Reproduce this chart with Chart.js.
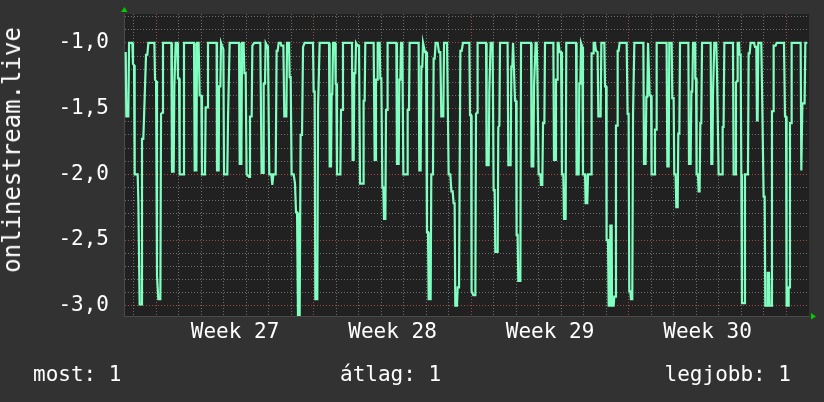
<!DOCTYPE html>
<html>
<head>
<meta charset="utf-8">
<script src="https://cdn.jsdelivr.net/npm/chart.js@4.4.1/dist/chart.umd.min.js"></script>
<style>
    html, body { margin: 0; padding: 0; background: #323232; }
    #wrap { position: relative; width: 824px; height: 402px; }
    #chart { position: absolute; left: 0; top: 0; }
    .txt {
        position: absolute;
        color: #ffffff;
        font-family: "DejaVu Sans Mono", monospace;
        font-size: 21px;
        line-height: 24px;
        white-space: nowrap;
    }
    #ytitle {
        font-size: 24px;
        left: 12px;
        top: 150px;
        transform: translate(-50%, -50%) rotate(-90deg);
    }
</style>
</head>
<body>
<div id="wrap">
    <canvas id="chart" width="824" height="402"></canvas>
    <div id="ytitle" class="txt"></div>
    <div id="s-now" class="txt" style="left:33px; top:362px"></div>
    <div id="s-avg" class="txt" style="left:340px; top:362px"></div>
    <div id="s-max" class="txt" style="right:33px; top:362px"></div>
</div>
<script>
"use strict";

// hours since the start of Week 27
const HOURS = [
    -32.7, -32.0, -29.9, -29.1, -25.6, -24.9, -23.8, -23.1, -19.9, -19.2,
    -17.8, -16.0, -15.3, -13.9, -13.1, -12.1, -11.0, -9.6, -8.5, -2.1,
    -1.4, -0.3, 0.7, 2.1, 4.3, 5.0, 6.4, 7.1, 16.0, 16.7,
    18.5, 19.2, 19.9, 20.6, 22.4, 23.1, 24.2, 24.9, 28.8, 29.5,
    40.2, 40.9, 42.7, 43.4, 45.1, 46.2, 48.0, 48.7, 51.9, 52.6,
    54.4, 55.1, 64.3, 64.7, 66.5, 66.9, 68.3, 69.0, 71.5, 72.2,
    75.7, 76.5, 77.5, 78.2, 88.2, 88.9, 90.7, 91.4, 93.1, 93.9,
    95.3, 96.3, 98.9, 99.9, 101.7, 102.4, 104.5, 110.9, 112.3, 113.8,
    114.5, 115.9, 116.6, 118.1, 119.1, 120.5, 122.7, 123.7, 124.8, 127.3,
    128.3, 129.4, 130.5, 132.6, 133.3, 135.5, 136.5, 138.7, 139.4, 141.5,
    142.2, 143.3, 144.3, 146.5, 147.9, 149.0, 150.1, 151.1, 152.9, 153.9,
    155.4, 156.5, 158.2, 167.1, 167.8, 168.9, 169.6, 171.7, 172.5, 173.5,
    174.2, 184.2, 184.9, 186.3, 187.0, 187.7, 188.5, 190.6, 191.3, 192.0,
    192.7, 196.3, 197.0, 198.4, 199.1, 208.7, 209.4, 210.5, 211.2, 212.3,
    213.0, 214.7, 216.2, 217.3, 220.5, 221.1, 222.2, 222.9, 231.8, 232.9,
    233.6, 234.3, 235.4, 236.1, 238.2, 238.9, 240.0, 241.1, 242.1, 242.9,
    244.3, 245.0, 246.1, 246.7, 256.0, 256.7, 258.5, 259.2, 260.3, 261.0,
    262.4, 263.5, 267.4, 268.1, 269.5, 270.2, 279.8, 280.5, 281.9, 282.7,
    283.7, 284.5, 285.5, 286.6, 287.7, 288.7, 289.8, 290.5, 292.6, 293.3,
    295.1, 295.8, 296.9, 297.9, 300.1, 301.5, 302.9, 304.0, 306.1, 306.9,
    310.1, 311.8, 313.6, 314.7, 316.1, 317.1, 318.2, 318.9, 320.7, 321.4,
    322.9, 324.3, 325.7, 327.1, 333.9, 334.6, 335.7, 336.3, 338.1, 340.3,
    341.0, 342.1, 342.7, 351.7, 352.3, 354.5, 355.2, 355.9, 356.6, 358.7,
    359.8, 360.9, 361.6, 364.1, 364.8, 365.9, 366.6, 374.7, 375.5, 377.9,
    378.7, 379.7, 380.5, 381.5, 382.6, 383.7, 384.3, 385.4, 386.1, 388.3,
    389.0, 399.7, 400.3, 402.1, 402.9, 403.9, 404.6, 405.7, 406.4, 407.1,
    407.8, 409.6, 410.3, 411.7, 412.5, 413.9, 414.6, 423.5, 424.2, 425.6,
    426.3, 427.4, 428.1, 429.1, 430.2, 431.7, 432.7, 434.1, 434.9, 436.6,
    437.3, 447.7, 448.3, 450.5, 451.2, 452.3, 453.0, 453.7, 454.4, 455.1,
    457.3, 457.9, 459.7, 460.5, 463.7, 464.3, 465.8, 466.5, 467.9, 469.0,
    470.7, 471.5, 473.9, 474.7, 477.9, 478.6, 479.7, 480.3, 481.8, 482.5,
    483.9, 484.3, 485.7, 486.1, 487.8, 488.5, 489.6, 490.3, 491.4, 492.1,
    493.1, 494.2, 501.7, 502.7, 503.8, 504.5, 505.6, 506.3, 507.7, 508.5,
    509.1, 509.9, 519.5, 520.2, 521.9, 522.7, 523.7, 524.5, 525.5, 526.2,
    527.7, 528.3, 531.2, 531.9, 533.0, 533.7, 544.3, 545.1, 546.5, 547.2,
    549.7, 550.4, 551.8, 552.5, 553.9, 554.7, 556.1, 556.8, 557.9, 558.6,
    567.5, 568.2, 569.9, 570.7, 571.7, 572.5, 574.6, 574.9, 575.7, 576.3,
    577.8, 578.5, 579.5, 580.3, 581.3, 582.1, 591.3, 592.0, 593.1, 593.8,
    594.5, 595.2, 597.3, 598.1, 599.1, 599.8, 603.4, 604.1, 605.1, 605.9,
    615.1, 615.8, 617.6, 618.3, 619.4, 620.1, 621.5, 622.2, 623.3, 624.0,
    624.7, 627.2, 627.9, 631.1, 631.8, 632.9, 633.9, 637.5, 638.6, 640.0,
    640.7, 641.4, 642.1, 645.3, 646.1, 647.1, 647.8, 648.9, 649.6, 651.4,
    652.1, 653.5, 654.2, 656.0, 656.7, 657.8, 658.5, 660.6, 661.7, 669.5,
    670.6, 671.7, 672.3, 673.8, 674.5, 675.2, 675.9, 677.0, 677.7, 687.3,
    688.0, 689.1, 691.5, 692.3, 694.4
];

const VALUES = [
    -1.07, -1.56, -1.56, -1.0, -1.0, -1.16, -1.17, -2.0, -2.0, -2.2,
    -2.99, -2.99, -1.73, -1.73, -1.56, -1.56, -1.09, -1.09, -1.0, -1.0,
    -1.28, -1.29, -2.77, -2.95, -2.95, -1.54, -1.53, -1.0, -1.0, -1.98,
    -1.98, -1.33, -1.33, -1.0, -1.0, -1.27, -1.27, -2.0, -2.0, -1.0,
    -1.0, -1.97, -1.97, -1.0, -1.0, -1.4, -1.4, -2.0, -2.0, -1.49,
    -1.49, -1.0, -1.0, -1.97, -1.97, -1.33, -1.33, -1.0, -1.05, -2.0,
    -2.0, -1.56, -1.56, -1.0, -1.0, -1.92, -1.92, -1.0, -1.0, -1.23,
    -1.23, -2.0, -2.02, -1.56, -1.56, -1.02, -1.0, -1.0, -1.99, -1.99,
    -1.31, -1.31, -1.0, -1.02, -1.05, -2.0, -2.0, -2.08, -2.0, -2.0,
    -1.06, -1.06, -1.0, -1.0, -1.02, -1.02, -1.56, -1.56, -1.0, -1.0,
    -1.26, -1.26, -2.0, -2.0, -2.07, -2.29, -2.29, -3.07, -3.07, -1.70,
    -1.70, -1.03, -1.0, -1.0, -1.37, -1.37, -2.95, -2.95, -1.49, -1.49,
    -1.0, -1.0, -1.94, -1.94, -1.39, -1.39, -1.0, -1.0, -1.31, -1.31,
    -2.0, -2.0, -1.51, -1.51, -1.0, -1.0, -1.89, -1.89, -1.23, -1.23,
    -1.0, -1.02, -1.02, -2.07, -2.07, -1.44, -1.44, -1.0, -1.0, -1.89,
    -1.89, -1.28, -1.28, -1.0, -1.0, -1.27, -1.27, -2.10, -2.10, -2.34,
    -2.34, -1.51, -1.51, -1.0, -1.0, -1.92, -1.92, -1.28, -1.28, -1.0,
    -1.0, -2.0, -2.0, -1.51, -1.51, -1.0, -1.0, -1.97, -1.97, -1.18,
    -1.18, -1.0, -1.0, -1.07, -1.07, -2.44, -2.44, -2.95, -2.95, -2.0,
    -2.0, -1.12, -1.12, -1.0, -1.0, -1.07, -1.07, -1.56, -1.56, -1.0,
    -1.0, -2.0, -2.0, -2.13, -2.13, -2.22, -2.22, -3.0, -3.0, -2.86,
    -2.86, -1.06, -1.06, -1.0, -1.0, -1.55, -1.55, -2.89, -2.92, -2.92,
    -1.54, -1.53, -1.0, -1.0, -1.93, -1.93, -1.37, -1.37, -1.0, -1.0,
    -2.12, -2.12, -2.59, -2.59, -1.64, -1.63, -1.0, -1.0, -1.93, -1.93,
    -1.18, -1.18, -1.0, -1.0, -1.44, -1.44, -2.46, -2.46, -2.81, -2.81,
    -1.0, -1.0, -1.94, -1.94, -1.33, -1.33, -1.0, -1.0, -1.2, -1.2,
    -2.0, -2.0, -2.08, -2.08, -1.61, -1.61, -1.0, -1.0, -1.89, -1.89,
    -1.28, -1.28, -1.0, -1.0, -1.07, -1.07, -2.0, -2.0, -2.34, -2.34,
    -1.0, -1.0, -2.0, -2.0, -1.31, -1.31, -1.0, -1.0, -1.03, -2.0,
    -2.0, -2.22, -2.22, -2.0, -2.0, -1.08, -1.08, -1.0, -1.0, -1.06,
    -1.07, -1.56, -1.56, -1.0, -1.0, -1.33, -1.33, -2.5, -2.5, -3.0,
    -3.0, -2.39, -2.39, -3.0, -3.0, -2.93, -2.93, -1.63, -1.63, -1.06,
    -1.06, -1.0, -1.0, -1.54, -1.54, -2.89, -2.89, -2.95, -2.95, -1.54,
    -1.54, -1.0, -1.0, -1.92, -1.92, -1.41, -1.41, -1.0, -1.0, -1.4,
    -1.4, -2.0, -2.0, -1.66, -1.66, -1.0, -1.0, -1.94, -1.94, -1.0,
    -1.0, -1.42, -1.42, -2.0, -2.0, -2.25, -2.25, -1.69, -1.69, -1.0,
    -1.0, -1.92, -1.92, -1.37, -1.37, -1.0, -1.0, -1.27, -1.27, -2.0,
    -2.0, -2.13, -2.13, -1.61, -1.61, -1.0, -1.0, -1.92, -1.92, -1.39,
    -1.39, -1.0, -1.0, -1.23, -1.23, -2.0, -2.0, -1.64, -1.64, -1.0,
    -1.0, -2.0, -2.0, -1.30, -1.29, -1.0, -1.0, -1.09, -1.09, -2.0,
    -2.98, -2.98, -2.0, -2.0, -1.08, -1.08, -1.0, -1.0, -1.03, -1.03,
    -1.59, -1.59, -1.0, -1.0, -1.35, -1.35, -2.17, -2.17, -3.0, -3.0,
    -2.75, -2.75, -3.0, -3.0, -1.52, -1.52, -1.02, -1.02, -1.0, -1.0,
    -1.56, -1.56, -3.0, -3.0, -2.86, -2.86, -1.61, -1.61, -1.0, -1.0,
    -1.97, -1.46, -1.46, -1.0, -1.0
];

const WEEK_LABELS = ["Week 27", "Week 28", "Week 29", "Week 30"];
const WEEK_MIDS   = [84, 252, 420, 588];      // hours, middle of each week
const Y_LABELS    = [-3.0, -2.5, -2.0, -1.5, -1.0];

const SERIES_NAME = "onlinestream.live";
const STATS = { now: "most: 1", avg: "átlag: 1", max: "legjobb: 1" };

const X_MIN = -34.5, X_MAX = 696.2;
const Y_MIN = -3.078, Y_MAX = -0.78;

const FONT      = "'DejaVu Sans Mono', monospace";
const LINE_COL  = "#80ffc0";
const GRID_GRAY = "#6e6e6e";
const GRID_RED  = "#a34848";

document.getElementById('ytitle').textContent = SERIES_NAME;
document.getElementById('s-now').textContent  = STATS.now;
document.getElementById('s-avg').textContent  = STATS.avg;
document.getElementById('s-max').textContent  = STATS.max;

// ─── Plugins ─────────────────────────────────────────────────────────────────

const plotBg = {
    id: 'plotBg',
    beforeDraw: function(chart) {
        var a = chart.chartArea, ctx = chart.ctx;
        ctx.save();
        ctx.fillStyle = '#323232';
        ctx.fillRect(0, 0, chart.width, chart.height);
        ctx.fillStyle = '#212121';
        ctx.fillRect(a.left, a.top, a.right - a.left, a.bottom - a.top);
        ctx.restore();
    }
};

const arrows = {
    id: 'arrows',
    afterDraw: function(chart) {
        var a = chart.chartArea, ctx = chart.ctx;
        ctx.save();
        ctx.fillStyle = '#00cc00';
        ctx.beginPath();
        ctx.moveTo(a.left - 3, a.top - 2);
        ctx.lineTo(a.left + 3.5, a.top - 2);
        ctx.lineTo(a.left + 0.5, a.top - 7);
        ctx.closePath();
        ctx.fill();
        ctx.beginPath();
        ctx.moveTo(a.right + 2, a.bottom - 3);
        ctx.lineTo(a.right + 2, a.bottom + 3.5);
        ctx.lineTo(a.right + 7, a.bottom + 0.5);
        ctx.closePath();
        ctx.fill();
        ctx.restore();
    }
};

// ─── Chart ───────────────────────────────────────────────────────────────────

var points = HOURS.map(function(h, i) { return { x: h, y: VALUES[i] }; });

new Chart(document.getElementById('chart'), {
    type: 'line',
    data: {
        datasets: [{
            label: SERIES_NAME,
            data: points,
            borderColor: LINE_COL,
            borderWidth: 2.2,
            pointRadius: 0,
            tension: 0,
            fill: false
        }]
    },
    options: {
        responsive: false,
        animation: false,
        devicePixelRatio: 1,
        layout: { padding: { left: 0, top: 14, right: 15, bottom: 46 } },
        plugins: { legend: { display: false }, tooltip: { enabled: false } },
        scales: {
            x: {
                type: 'linear',
                min: X_MIN,
                max: X_MAX,
                afterFit: function(s) {
                    s.height = 40;
                    s.paddingLeft = 0;
                    s.paddingRight = 0;
                },
                afterBuildTicks: function(s) {
                    var t = [];
                    for (var h = -24; h <= 684; h += 24) { t.push({ value: h }); }
                    WEEK_MIDS.forEach(function(m) { t.push({ value: m }); });
                    t.sort(function(a, b) { return a.value - b.value; });
                    s.ticks = t;
                },
                grid: {
                    drawTicks: false,
                    lineWidth: 1,
                    color: function(c) {
                        var v = c.tick ? c.tick.value : 0;
                        if (v % 168 === 0) { return GRID_RED; }
                        if (v % 24 === 0) { return GRID_GRAY; }
                        return 'rgba(0,0,0,0)';
                    }
                },
                border: { display: true, color: '#4a4a4a', width: 1, dash: [1, 2] },
                ticks: {
                    autoSkip: false,
                    maxRotation: 0,
                    padding: 4,
                    color: '#ffffff',
                    font: { family: FONT, size: 21 },
                    callback: function(v) {
                        var i = WEEK_MIDS.indexOf(v);
                        return i >= 0 ? WEEK_LABELS[i] : '';
                    }
                }
            },
            y: {
                type: 'linear',
                min: Y_MIN,
                max: Y_MAX,
                afterFit: function(s) {
                    s.width = 124;
                    s.paddingTop = 0;
                    s.paddingBottom = 0;
                },
                afterBuildTicks: function(s) {
                    var t = [];
                    for (var k = -30; k <= -8; k++) { t.push({ value: k / 10 }); }
                    s.ticks = t;
                },
                grid: {
                    drawTicks: false,
                    lineWidth: 1,
                    color: function(c) {
                        var v = c.tick ? Math.round(c.tick.value * 10) : 0;
                        return v % 5 === 0 ? GRID_RED : GRID_GRAY;
                    }
                },
                border: { display: true, color: '#4a4a4a', width: 1, dash: [1, 2] },
                ticks: {
                    autoSkip: false,
                    padding: 15,
                    color: '#ffffff',
                    font: { family: FONT, size: 21 },
                    callback: function(v) {
                        var r = Math.round(v * 10) / 10;
                        if (Y_LABELS.indexOf(r) < 0) { return ''; }
                        return r.toFixed(1).replace('.', ',');
                    }
                }
            }
        }
    },
    plugins: [plotBg, arrows]
});
</script>
</body>
</html>
